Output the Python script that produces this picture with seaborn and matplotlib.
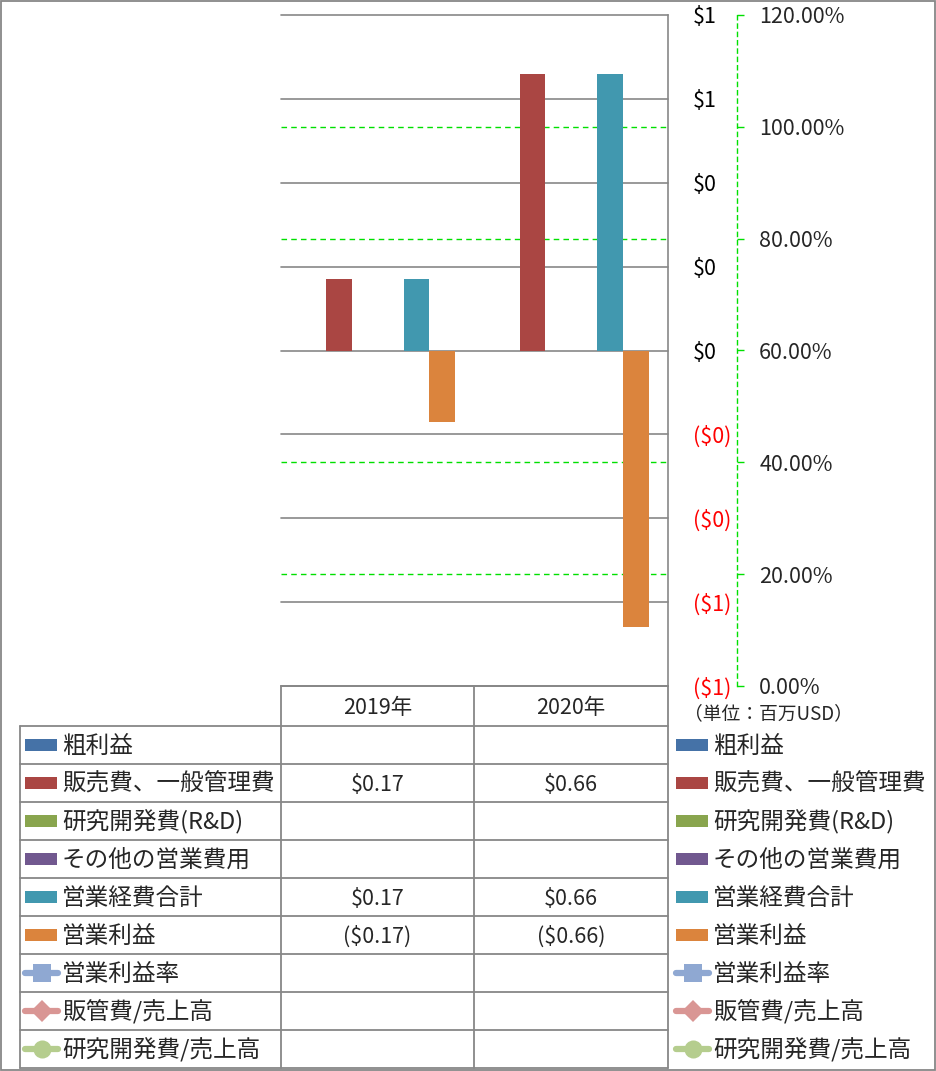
import numpy as np
import pandas as pd
import matplotlib
matplotlib.use("Agg")
import matplotlib.pyplot as plt
from matplotlib.patches import Rectangle
from matplotlib.lines import Line2D
import seaborn as sns

# ---------------- data ----------------
years = ["2019年", "2020年"]
bar_series = ["粗利益", "販売費、一般管理費", "研究開発費(R&D)", "その他の営業費用", "営業経費合計", "営業利益"]
bar_colors = ["#4572A7", "#AA4643", "#89A54E", "#71588F", "#4198AF", "#DB843D"]
gross_profit = [None, None]
sga = [0.17, 0.66]
rnd = [None, None]
other_opex = [None, None]
total_opex = [0.17, 0.66]
operating_income = [-0.17, -0.66]

line_series = ["営業利益率", "販管費/売上高", "研究開発費/売上高"]
line_colors = ["#8FA8D2", "#D99694", "#B5CD8E"]
line_markers = ["s", "D", "o"]
op_margin = [None, None]
sga_ratio = [None, None]
rnd_ratio = [None, None]

bar_values = [gross_profit, sga, rnd, other_opex, total_opex, operating_income]
line_values = [op_margin, sga_ratio, rnd_ratio]

primary_ticks = [-0.8, -0.6, -0.4, -0.2, 0.0, 0.2, 0.4, 0.6, 0.8]
secondary_ticks = [0.0, 0.2, 0.4, 0.6, 0.8, 1.0, 1.2]
unit_label = "（単位：百万USD）"

# ---------------- style ----------------
sns.set_style("white")
plt.rcParams["font.family"] = ["Noto Sans CJK JP", "DejaVu Sans"]

W, H = 936, 1071
DPI = 100
fig = plt.figure(figsize=(W / DPI, H / DPI), dpi=DPI)
fig.patch.set_facecolor("white")

GRID = "#878787"
GREEN = "#00E000"

def fx(px):
    return px / W

def fy(py):
    return 1 - py / H

# plot area
L, R, T, B = 281, 668, 15, 686
ax = fig.add_axes([fx(L), fy(B), fx(R) - fx(L), fy(T) - fy(B)])
ax2 = ax.twinx()
ax.set_zorder(2)
ax2.set_zorder(1)
ax.patch.set_visible(False)

rows = []
for s, vals in zip(bar_series, bar_values):
    for y, v in zip(years, vals):
        if v is not None:
            rows.append({"year": y, "series": s, "value": v})
df = pd.DataFrame(rows)

sns.barplot(data=df, x="year", y="value", hue="series", hue_order=bar_series,
            order=years, palette=dict(zip(bar_series, bar_colors)), width=0.8,
            errorbar=None, saturation=1, linewidth=0, legend=False, ax=ax, zorder=3)

ax.set_xlim(-0.5, len(years) - 0.5)
ax.set_ylim(primary_ticks[0], primary_ticks[-1])
ax.set_yticks(primary_ticks)
ax.yaxis.tick_right()
ax.yaxis.set_label_position("right")

def money(v):
    r = round(abs(v))
    if v < -1e-9:
        return f"(${r:.0f})"
    return f"${r:.0f}"

ax.set_yticklabels([money(v) for v in primary_ticks])
ax.tick_params(axis="y", length=0, pad=18, labelsize=15.5)
for lab, v in zip(ax.get_yticklabels(), primary_ticks):
    lab.set_color("red" if v < -1e-9 else "black")
ax.set_xticks([])
ax.set_xlabel("")
ax.set_ylabel("")
ax.grid(axis="y", color=GRID, linewidth=1.2, zorder=0)
ax.set_axisbelow(True)
for gl in ax.yaxis.get_gridlines():
    gl.set_clip_on(False)
for side in ["left", "top", "bottom"]:
    ax.spines[side].set_visible(False)
ax.spines["right"].set_color(GRID)
ax.spines["right"].set_linewidth(1.2)

# secondary axis (percent)
ax2.set_ylim(secondary_ticks[0], secondary_ticks[-1])
ax2.set_yticks(secondary_ticks)
ax2.set_yticklabels([f"{v*100:.2f}%" for v in secondary_ticks])
ax2.tick_params(axis="y", length=5, color=GREEN, width=1, pad=11, direction="out", labelsize=15.5)
ax2.spines["right"].set_position(("axes", (737 - L) / (R - L)))
ax2.spines["right"].set_linestyle((0, (3, 3)))
ax2.spines["right"].set_color(GREEN)
ax2.spines["right"].set_linewidth(1.0)
for side in ["left", "top", "bottom"]:
    ax2.spines[side].set_visible(False)
ax2.grid(axis="y", color=GREEN, linestyle=(0, (4, 3)), linewidth=1.0)
gls = ax2.yaxis.get_gridlines()
for k in (0, 3, len(gls) - 1):
    gls[k].set_visible(False)
ax2.set_xticks([])
for s, c, m, vals in zip(line_series, line_colors, line_markers, line_values):
    xs = [i for i, v in enumerate(vals) if v is not None]
    ys = [v for v in vals if v is not None]
    ax2.plot(xs, ys, color=c, marker=m, linewidth=4)

# ---------------- overlay: table, legend, frame ----------------
ov = fig.add_axes([0, 0, 1, 1], zorder=5)
ov.set_xlim(0, W)
ov.set_ylim(H, 0)
ov.axis("off")
ov.patch.set_visible(False)

lw = 1.3
ov.add_patch(Rectangle((0.5, 0.5), W - 1.5, H - 1.5, fill=False, edgecolor=GRID, linewidth=lw))

row_tops = [726 + 38 * i for i in range(10)]
row_tops[-1] = 1068
col_x = [L, 474, R]
ov.plot([L, R], [686, 686], color=GRID, lw=lw)
for y in row_tops:
    ov.plot([20, R], [y, y], color=GRID, lw=lw)
ov.plot([20, 20], [726, 1068], color=GRID, lw=lw)
for x in col_x:
    ov.plot([x, x], [686, 1068], color=GRID, lw=lw)

TY = 1.5  # text baseline nudge
col_centers = [(col_x[i] + col_x[i + 1]) / 2 for i in range(len(years))]
for cx, yname in zip(col_centers, years):
    ov.text(cx, 706 + TY, yname, ha="center", va="center", fontsize=15.5)

def fmt_cell(v):
    if v is None:
        return ""
    if v < 0:
        return f"(${abs(v):.2f})"
    return f"${v:.2f}"

all_names = bar_series + line_series
all_vals = bar_values + line_values
row_centers = [(row_tops[i] + row_tops[i + 1]) / 2 for i in range(9)]

def draw_key(x0, yc, idx):
    if idx < len(bar_series):
        ov.add_patch(Rectangle((x0 + 2, yc - 6), 32, 12, color=bar_colors[idx], lw=0))
    else:
        j = idx - len(bar_series)
        ov.add_line(Line2D([x0 + 2, x0 + 35], [yc, yc], color=line_colors[j], lw=4.5,
                           solid_capstyle="round"))
        ov.plot([x0 + 18.5], [yc], marker=line_markers[j], color=line_colors[j],
                markersize=13 if line_markers[j] != "D" else 11, markeredgewidth=0)

for i, (name, vals) in enumerate(zip(all_names, all_vals)):
    yc = row_centers[i]
    draw_key(23, yc, i)
    ov.text(62, yc + TY, name, ha="left", va="center", fontsize=17)
    for cx, v in zip(col_centers, vals):
        ov.text(cx, yc + TY, fmt_cell(v), ha="center", va="center", fontsize=15.5)
    draw_key(674, yc, i)
    ov.text(713, yc + TY, name, ha="left", va="center", fontsize=17)

ov.text(684, 714, unit_label, ha="left", va="center", fontsize=13.5)

fig.savefig("out.png", dpi=DPI)
